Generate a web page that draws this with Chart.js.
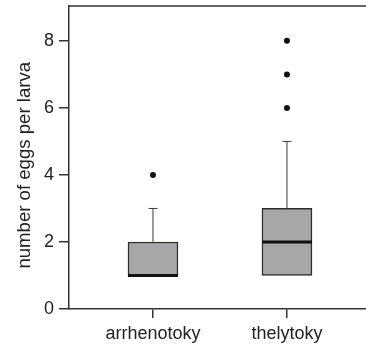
<!DOCTYPE html>
<html>
<head>
<meta charset="utf-8">
<script src="https://cdn.jsdelivr.net/npm/chart.js@4"></script>
<style>
  html, body { margin: 0; padding: 0; background: #fff; }
  #wrap { width: 366px; height: 344px; }
</style>
</head>
<body>
<div id="wrap"><canvas id="grafico" width="366" height="344"></canvas></div>
<script>
// dados
const categorias = ['arrhenotoky', 'thelytoky'];
const bigodeMin = [1, 1];
const quartil1 = [1, 1];
const medianas = [1, 2];
const quartil3 = [2, 3];
const bigodeMax = [3, 5];
const outliers = [[4], [6, 7, 8]];
const ticksY = [0, 2, 4, 6, 8];

const corTexto = '#222222';
const corEixo = '#333333';
const fonte = { family: '"Liberation Sans", Arial, sans-serif', size: 18 };

// caixas (q1 -> q3) como barras flutuantes
const dadosCaixas = categorias.map((c, i) => ({ x: i + 1, y: [quartil1[i], quartil3[i]] }));
// pontos fora da curva
const dadosOutliers = [];
outliers.forEach((lista, i) => lista.forEach(v => dadosOutliers.push({ x: i + 1, y: v })));

// plugin: bigodes, medianas e linha superior da moldura
const pluginBoxplot = {
    id: 'boxplot',
    afterDatasetsDraw(chart) {
        const ctx = chart.ctx;
        const sx = chart.scales.x, sy = chart.scales.y;
        const meta = chart.getDatasetMeta(0);
        ctx.save();
        categorias.forEach((c, i) => {
            const barra = meta.data[i];
            const cx = sx.getPixelForValue(i + 1);
            const meia = barra.width / 2;
            // bigode superior
            ctx.strokeStyle = '#3a3a3a';
            ctx.lineWidth = 1;
            ctx.beginPath();
            ctx.moveTo(cx, sy.getPixelForValue(quartil3[i]));
            ctx.lineTo(cx, sy.getPixelForValue(bigodeMax[i]));
            ctx.moveTo(cx - 4.5, sy.getPixelForValue(bigodeMax[i]));
            ctx.lineTo(cx + 4.5, sy.getPixelForValue(bigodeMax[i]));
            // bigode inferior (se houver)
            if (bigodeMin[i] < quartil1[i]) {
                ctx.moveTo(cx, sy.getPixelForValue(quartil1[i]));
                ctx.lineTo(cx, sy.getPixelForValue(bigodeMin[i]));
                ctx.moveTo(cx - 4.5, sy.getPixelForValue(bigodeMin[i]));
                ctx.lineTo(cx + 4.5, sy.getPixelForValue(bigodeMin[i]));
            }
            ctx.stroke();
            // mediana
            ctx.strokeStyle = '#111111';
            ctx.lineWidth = 3;
            ctx.beginPath();
            ctx.moveTo(cx - meia, sy.getPixelForValue(medianas[i]));
            ctx.lineTo(cx + meia, sy.getPixelForValue(medianas[i]));
            ctx.stroke();
        });
        // linha de cima
        const a = chart.chartArea;
        ctx.strokeStyle = corEixo;
        ctx.lineWidth = 1.5;
        ctx.beginPath();
        ctx.moveTo(a.left, a.top);
        ctx.lineTo(a.right, a.top);
        ctx.stroke();
        ctx.restore();
    }
};

new Chart(document.getElementById('grafico').getContext('2d'), {
    type: 'bar',
    data: {
        datasets: [
            {
                data: dadosCaixas,
                backgroundColor: '#a7a7aa',
                borderColor: '#2e2e2e',
                borderWidth: 1.5,
                borderSkipped: false,
                barThickness: 50,
                order: 2
            },
            {
                type: 'line',
                data: dadosOutliers,
                showLine: false,
                pointRadius: 3,
                pointBackgroundColor: '#111111',
                pointBorderWidth: 0,
                order: 1
            }
        ]
    },
    options: {
        responsive: false,
        animation: false,
        devicePixelRatio: 1,
        layout: { autoPadding: false, padding: { top: 6, left: 0, right: 0, bottom: 0 } },
        plugins: { legend: { display: false }, tooltip: { enabled: false } },
        scales: {
            x: {
                type: 'linear',
                offset: false,
                min: 0.373,
                max: 2.59,
                afterBuildTicks: (eixo) => { eixo.ticks = categorias.map((c, i) => ({ value: i + 1 })); },
                afterFit: (eixo) => { eixo.height = 35; eixo.paddingLeft = 0; eixo.paddingRight = 0; },
                ticks: {
                    callback: (v) => categorias[v - 1],
                    color: corTexto,
                    font: fonte,
                    padding: 5,
                    maxRotation: 0
                },
                grid: { offset: false, drawOnChartArea: false, drawTicks: true, tickLength: 9, color: corEixo, lineWidth: 1.5 },
                border: { display: true, color: corEixo, width: 1.5 }
            },
            y: {
                min: 0,
                max: 9.04,
                afterBuildTicks: (eixo) => { eixo.ticks = ticksY.map(v => ({ value: v })); },
                afterFit: (eixo) => { eixo.width = 69; eixo.paddingTop = 0; eixo.paddingBottom = 0; },
                ticks: { color: corTexto, font: fonte, padding: 5 },
                grid: { drawOnChartArea: false, drawTicks: true, tickLength: 10, color: corEixo, lineWidth: 1.5 },
                border: { display: true, color: corEixo, width: 1.5 },
                title: {
                    display: true,
                    text: 'number of eggs per larva   ',
                    color: corTexto,
                    font: { family: fonte.family, size: 18.6 },
                    padding: { top: 14, bottom: 3 }
                }
            }
        }
    },
    plugins: [pluginBoxplot]
});
</script>
</body>
</html>
